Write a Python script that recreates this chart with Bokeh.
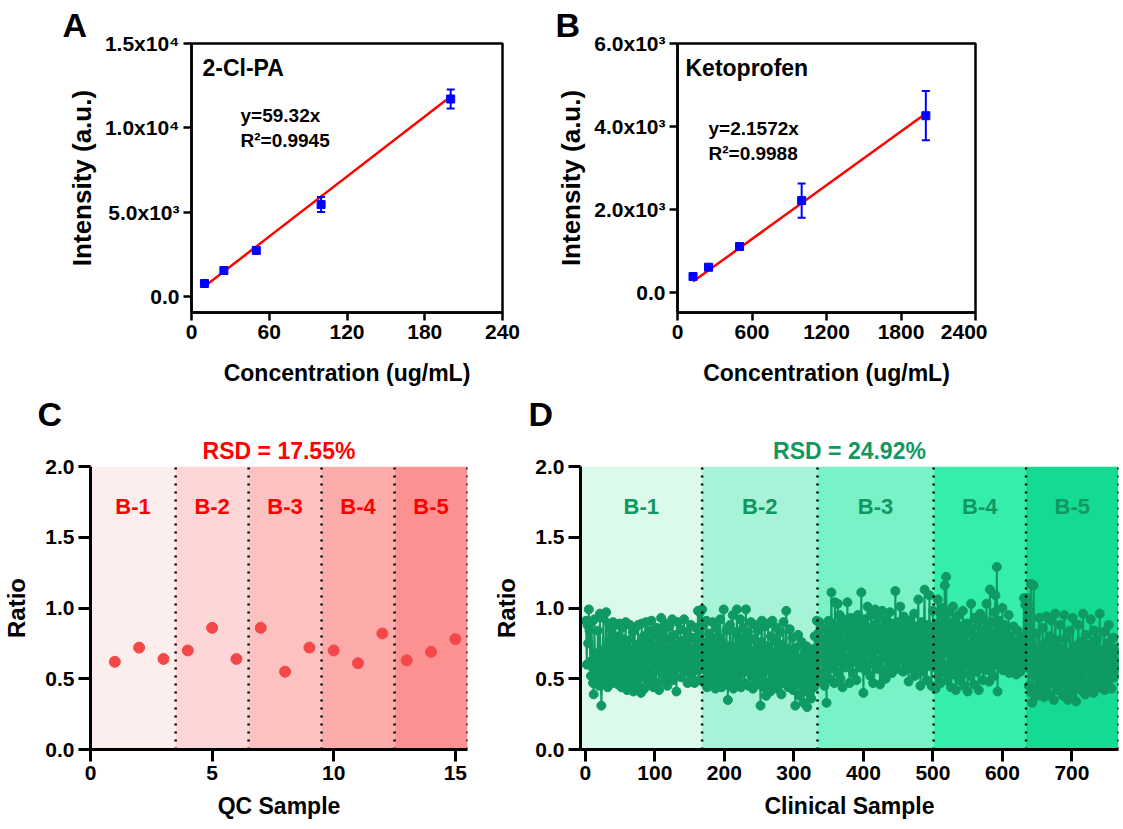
import numpy as np
from bokeh.plotting import figure
from bokeh.layouts import row, column
from bokeh.models import Range1d, FixedTicker, Label, Spacer, Title
from bokeh.core.properties import value
from bokeh.embed import file_html
from bokeh.resources import INLINE

FONT = "Liberation Sans"
FONT_VALUE = value(FONT)

# ---------------- data ----------------
# Panel A : 2-Cl-PA calibration
concA = [10, 25, 50, 100, 200]
intA = [770, 1540, 2730, 5450, 11710]
errA = [130, 150, 180, 445, 565]
slopeA = 59.32
fitA_x = [10, 200]

# Panel B : Ketoprofen calibration
concB = [125, 250, 500, 1000, 2000]
intB = [392, 616, 1113, 2219, 4262]
errB = [60, 60, 65, 410, 593]
slopeB = 2.1572
fitB_x = [125, 2000]

# Panel C : QC samples
qc_ratio = [0.62, 0.72, 0.64, 0.70, 0.86, 0.64, 0.86, 0.55, 0.72, 0.70, 0.61, 0.82, 0.63, 0.69, 0.78]
qc_bounds = [0, 3.5, 6.5, 9.5, 12.5, 15.5]

# Panel D : clinical samples (ratio x 100), per batch
clin_b1 = [
    91, 60, 88, 75, 99, 84, 62, 52, 90, 58, 47, 39, 92, 55, 68, 48, 57, 84, 61, 45,
    96, 55, 31, 48, 70, 93, 62, 46, 50, 97, 66, 44, 71, 89, 58, 52, 85, 63, 47, 90,
    74, 56, 88, 49, 67, 80, 46, 59, 89, 72, 54, 44, 86, 63, 78, 48, 69, 90, 58, 42,
    77, 64, 52, 88, 47, 70, 59, 83, 41, 66, 85, 53, 72, 49, 62, 88, 45, 75, 58, 40,
    89, 67, 51, 80, 43, 63, 90, 55, 71, 48, 84, 60, 46, 76, 91, 52, 68, 44, 82, 61,
    73, 47, 86, 58, 69, 42, 79, 62, 93, 54, 66, 83, 48, 71, 89, 57, 64, 45, 78, 62,
    87, 52, 70, 60, 92, 49, 66, 81, 56, 74, 41, 68, 90, 58, 73, 63, 85, 51, 69, 77,
    60, 92, 55, 72, 64, 83, 47, 69, 78, 57, 66, 88, 53, 71, 62, 79, 47, 65, 86, 58,
    73, 98, 56, 49, 97, 62, 70, 99]
clin_b2 = [
    62, 88, 47, 75, 56, 91, 44, 68, 53, 82, 60, 49, 78, 66, 90, 45, 58, 72, 43, 86,
    64, 52, 80, 47, 69, 92, 57, 44, 76, 63, 99, 51, 70, 46, 84, 59, 35, 73, 62, 88,
    49, 67, 56, 95, 43, 71, 60, 83, 52, 99, 65, 48, 79, 58, 92, 44, 68, 54, 86, 61,
    47, 74, 99, 56, 62, 83, 45, 70, 58, 90, 52, 66, 43, 78, 61, 88, 49, 71, 55, 84,
    46, 69, 59, 31, 76, 91, 50, 64, 44, 87, 60, 38, 73, 56, 89, 47, 66, 41, 80, 58,
    91, 52, 68, 45, 77, 62, 86, 43, 57, 70, 49, 83, 61, 39, 74, 55, 90, 47, 66, 58,
    98, 52, 71, 44, 63, 85, 48, 69, 57, 79, 42, 66, 53, 31, 72, 60, 47, 81, 55, 38,
    64, 50, 76, 45, 59, 33, 68, 52, 41, 73, 30, 58, 47, 66, 40, 55, 36, 62, 49, 71,
    44, 80, 57, 53, 91, 48]
clin_b3 = [
    82, 55, 90, 48, 74, 63, 86, 52, 69, 45, 78, 61, 33, 84, 56, 91, 50, 72, 66, 111,
    58, 89, 74, 47, 104, 68, 80, 55, 103, 77, 62, 95, 50, 86, 71, 44, 92, 65, 79, 58,
    88, 73, 104, 60, 85, 47, 76, 93, 66, 81, 54, 90, 70, 62, 87, 49, 78, 95, 67, 84,
    58, 73, 111, 64, 89, 40, 77, 92, 56, 82, 69, 101, 60, 86, 74, 52, 95, 68, 80, 47,
    88, 63, 99, 71, 57, 84, 76, 93, 62, 46, 81, 70, 98, 55, 87, 66, 79, 50, 92, 73,
    64, 85, 58, 97, 71, 80, 54, 89, 68, 76, 61, 112, 74, 83, 57, 90, 69, 79, 101, 63,
    86, 72, 55, 94, 78, 67, 88, 59, 82, 70, 48, 91, 76, 63, 85, 57, 80, 69, 96, 52,
    74, 87, 61, 83, 106, 58, 79, 45, 68, 90, 73, 55, 84, 113, 62, 77, 49, 88, 70, 59,
    109, 66, 83, 45, 76, 98, 64]
clin_b4 = [
    58, 76, 43, 89, 64, 106, 52, 83, 70, 47, 95, 61, 100, 78, 55, 116, 68, 122, 84, 49,
    73, 97, 58, 86, 44, 79, 62, 101, 53, 91, 67, 42, 84, 58, 76, 95, 49, 70, 87, 61,
    53, 98, 72, 45, 81, 66, 59, 89, 41, 74, 63, 85, 52, 103, 71, 58, 80, 46, 93, 67,
    76, 55, 88, 62, 42, 79, 96, 58, 71, 84, 49, 92, 65, 77, 56, 103, 70, 61, 86, 48,
    113, 75, 58, 90, 67, 81, 52, 97, 109, 64, 129, 41, 78, 91, 59, 71, 85, 63, 100, 56,
    74, 88, 61, 69, 82, 58, 77, 95, 54, 66, 80, 60, 72, 57, 87, 65, 59, 76, 53, 68,
    84, 62, 57, 73, 55, 79, 61, 70, 58, 107, 64, 102, 59]
clin_b5 = [
    107, 62, 103, 45, 98, 57, 117, 40, 33, 72, 116, 52, 61, 44, 82, 38, 67, 55, 93, 48,
    70, 41, 58, 86, 63, 37, 75, 50, 94, 57, 45, 68, 39, 80, 53, 62, 91, 47, 72, 35,
    58, 96, 49, 66, 42, 77, 54, 61, 88, 45, 71, 52, 38, 64, 95, 56, 43, 79, 60, 35,
    68, 47, 84, 53, 62, 40, 93, 58, 49, 73, 56, 34, 66, 44, 88, 61, 52, 76, 42, 70,
    59, 96, 47, 63, 39, 81, 55, 68, 46, 74, 58, 43, 92, 61, 50, 72, 40, 84, 57, 65,
    47, 78, 53, 62, 44, 96, 59, 70, 48, 66, 56, 83, 42, 69, 61, 54, 75, 46, 88, 60,
    52, 71, 43, 66, 58, 79, 51, 63, 69, 57, 62, 55, 72]
clin_bounds = [-7, 168, 334, 501, 634, 767]

batch_names = ["B-1", "B-2", "B-3", "B-4", "B-5"]
qc_colors = ["#FDEEEE", "#FDD7D7", "#FCC1C1", "#FCABAB", "#FC9191"]
clin_colors = ["#DCFAEC", "#A6F3D7", "#7AF2C7", "#35EEAB", "#14DA92"]

A_yticks = {0: "0.0", 5000: "5.0x10\u00b3", 10000: "1.0x10\u2074", 15000: "1.5x10\u2074"}
B_yticks = {0: "0.0", 2000: "2.0x10\u00b3", 4000: "4.0x10\u00b3", 6000: "6.0x10\u00b3"}
A_xticks = [0, 60, 120, 180, 240]
B_xticks = [0, 600, 1200, 1800, 2400]
ratio_ticks = {0: "0.0", 0.5: "0.5", 1: "1.0", 1.5: "1.5", 2: "2.0"}

RED = "#FF0000"
BLUE = "#0000FF"
QC_PT = "#F44848"
GREEN = "#0E9A62"
GREEN_TXT = "#119862"


# ---------------- helpers ----------------
def make_fig(w, h, box, xr, yr, page_x, page_y):
    L, T, R, B = box
    p = figure(width=w, height=h, x_range=Range1d(*xr), y_range=Range1d(*yr),
               output_backend="svg", toolbar_location=None,
               min_border_left=L - page_x, min_border_right=page_x + w - R,
               min_border_top=T - page_y, min_border_bottom=page_y + h - B)
    p.grid.visible = False
    p.background_fill_color = "white"
    p.border_fill_color = "white"
    p._box = box
    p._xr = xr
    p._yr = yr
    return p


def to_data(p, X, Y):
    L, T, R, B = p._box
    x = p._xr[0] + (X - L) / (R - L) * (p._xr[1] - p._xr[0])
    y = p._yr[0] + (B - Y) / (B - T) * (p._yr[1] - p._yr[0])
    return x, y


def lab(p, X, Y, text, size, color="black", align="left", style="bold"):
    x, y = to_data(p, X, Y)
    p.add_layout(Label(x=x, y=y, text=text, text_font=FONT, text_font_size=f"{size}px",
                       text_font_style=style, text_color=color, text_align=align,
                       text_baseline="middle"))


def add_title(p, text, size, align, offset, standoff, color="black"):
    p.add_layout(Title(text=text, align=align, offset=offset, standoff=standoff,
                       text_font=FONT, text_font_size=f"{size}px", text_font_style="bold",
                       text_color=color), "above")


def style_axes(p, lw, tick_out, tick_size, xtitle_size, ytitle_size, xstand, ystand):
    for ax in p.axis:
        ax.axis_line_width = lw
        ax.axis_line_color = "black"
        ax.major_tick_line_width = lw
        ax.major_tick_line_color = "black"
        ax.major_tick_out = tick_out
        ax.major_tick_in = 0
        ax.minor_tick_out = 0
        ax.minor_tick_in = 0
        ax.major_label_text_font = FONT
        ax.major_label_text_font_style = "bold"
        ax.major_label_text_font_size = f"{tick_size}px"
        ax.major_label_text_color = "black"
        ax.major_label_standoff = 4
        ax.axis_label_text_font = FONT
        ax.axis_label_text_font_style = "bold"
        ax.axis_label_text_color = "black"
    p.xaxis.axis_label_text_font_size = f"{xtitle_size}px"
    p.yaxis.axis_label_text_font_size = f"{ytitle_size}px"
    p.xaxis.axis_label_standoff = xstand
    p.yaxis.axis_label_standoff = ystand


def calib_panel(w, box, xr, yr, page_x, xticks, yticks, conc, inten, err, slope, fitx,
                letter, name, eq, r2, letter_off, name_xy, eq_xy):
    p = make_fig(w, 390, box, xr, yr, page_x, 0)
    p.outline_line_color = "black"
    p.outline_line_width = 2.5
    p.outline_line_alpha = 1
    p.xaxis.ticker = FixedTicker(ticks=xticks)
    p.yaxis.ticker = FixedTicker(ticks=list(yticks.keys()))
    p.yaxis.major_label_overrides = yticks
    p.xaxis.axis_label = "Concentration (ug/mL)"
    p.yaxis.axis_label = "Intensity (a.u.)"
    style_axes(p, 2.5, 8, 21, 23, 26, 18, 5)
    # fit line
    p.line(fitx, [slope * v for v in fitx], line_color=RED, line_width=2.5)
    # error bars
    lo = [v - e for v, e in zip(inten, err)]
    hi = [v + e for v, e in zip(inten, err)]
    p.segment(x0=conc, y0=lo, x1=conc, y1=hi, line_color=BLUE, line_width=2)
    p.scatter(conc, lo, marker="dash", size=8, line_color=BLUE, line_width=2)
    p.scatter(conc, hi, marker="dash", size=8, line_color=BLUE, line_width=2)
    p.scatter(conc, inten, marker="square", size=8, fill_color=BLUE, line_color=BLUE)
    add_title(p, letter, 34, "left", letter_off, 0)
    lab(p, name_xy[0], name_xy[1], name, 23)
    lab(p, eq_xy[0], eq_xy[1], eq, 19)
    lab(p, eq_xy[0], eq_xy[1] + 25, r2, 19)
    return p


def batch_panel(w, box, xr, page_x, bounds, colors, values_x, values_y, pt_color, txt_color,
                xticks, xlabel, letter, rsd, letter_off, pt_size, with_line):
    p = make_fig(w, 439, box, xr, (0, 2), page_x, 390)
    p.outline_line_color = None
    p.xaxis.ticker = FixedTicker(ticks=xticks)
    p.yaxis.ticker = FixedTicker(ticks=list(ratio_ticks.keys()))
    p.yaxis.major_label_overrides = ratio_ticks
    p.xaxis.axis_label = xlabel
    p.yaxis.axis_label = "Ratio"
    style_axes(p, 3, 12, 21, 23, 24, 10, 12)
    lefts = bounds[:-1]
    rights = bounds[1:]
    p.quad(left=lefts, right=rights, bottom=0, top=2, fill_color=colors, line_color=None)
    if with_line:
        p.line(values_x, values_y, line_color=pt_color, line_width=2)
    p.scatter(values_x, values_y, size=pt_size, fill_color=pt_color, line_color=pt_color)
    p.segment(x0=rights, y0=0, x1=rights, y1=2, line_color="black", line_width=2.5,
              line_dash="2 6")
    centers = [(a + b) / 2 for a, b in zip(lefts, rights)]
    p.text(x=centers, y=[1.72] * 5, text=batch_names, text_color=txt_color,
           text_font=FONT_VALUE, text_font_size="22px", text_font_style="bold",
           text_align="center", text_baseline="middle")
    add_title(p, rsd, 23, "center", 0, 6, color=txt_color)
    add_title(p, letter, 34, "left", letter_off, 0)
    return p


pA = calib_panel(540, (191, 43, 502, 312), (0, 240), (-949, 15000), 0, A_xticks, A_yticks,
                 concA, intA, errA, slopeA, fitA_x, "A", "2-Cl-PA", "y=59.32x",
                 "R\u00b2=0.9945", -129, (202, 67), (240, 115))
pB = calib_panel(447, (677, 43, 975, 312), (0, 2400), (-474, 6000), 540, B_xticks, B_yticks,
                 concB, intB, errB, slopeB, fitB_x, "B", "Ketoprofen", "y=2.1572x",
                 "R\u00b2=0.9988", -122, (685, 67), (708, 128))

qc_x = list(range(1, len(qc_ratio) + 1))
pC = batch_panel(490, (88, 466, 467, 749), (0, 15.5), 0, qc_bounds, qc_colors, qc_x, qc_ratio,
                 QC_PT, RED, [0, 5, 10, 15], "QC Sample", "C", "RSD = 17.55%", -53,
                 11, False)

clin_all = clin_b1 + clin_b2 + clin_b3 + clin_b4 + clin_b5
clin_y = [v / 100 for v in clin_all]
clin_x = list(range(1, len(clin_y) + 1))
pD = batch_panel(633, (577, 466, 1118, 749), (-7, 767), 490, clin_bounds, clin_colors,
                 clin_x, clin_y, GREEN, GREEN_TXT, [0, 100, 200, 300, 400, 500, 600, 700],
                 "Clinical Sample", "D", "RSD = 24.92%", -52, 9, True)

layout = column(row(pA, pB, Spacer(width=136, height=390)), row(pC, pD))

open("out.html", "w").write(file_html(layout, INLINE))
